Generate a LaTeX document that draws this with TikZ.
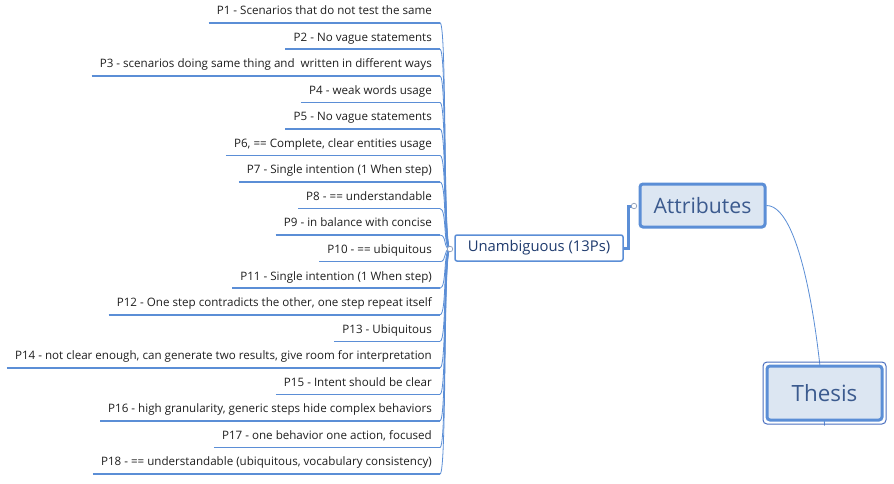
\documentclass[tikz,border=0pt]{standalone}
\usepackage{fontspec}
\setmainfont{Open Sans}
\usetikzlibrary{backgrounds}
\definecolor{lineblue}{HTML}{5B8ED6}
\definecolor{boxfill}{HTML}{DCE6F2}
\definecolor{titleblue}{HTML}{3B5A8E}
\definecolor{navy}{HTML}{1F3B6E}
\definecolor{dotgray}{HTML}{8A9BB8}
\definecolor{outerblue}{HTML}{4A6FC0}
\begin{document}
\begin{tikzpicture}[x=1pt,y=-1pt,
  leaf/.style={anchor=south east, inner xsep=8pt, inner ysep=5pt,
    text height=9pt, text depth=3pt, font=\fontsize{11.6}{13}\selectfont, text=black!88},
  uline/.style={draw=lineblue, line width=1.6pt},
  conn/.style={draw=lineblue, line width=0.8pt},
  dot/.style={circle, draw=dotgray, fill=white, inner sep=0pt, minimum size=5.5pt, line width=0.7pt},
  ubox/.style={draw=lineblue, line width=1.5pt, fill=white, rounded corners=2pt,
    minimum width=168pt, minimum height=26pt, inner sep=0pt, text=navy,
    font=\fontsize{14.8}{16}\selectfont},
  abox/.style={draw=lineblue, line width=3pt, fill=boxfill, rounded corners=3pt,
    minimum width=125pt, minimum height=43pt, inner sep=0pt, text=titleblue,
    font=\fontsize{21.2}{24}\selectfont},
  tbox/.style={draw=lineblue, line width=3pt, fill=boxfill, rounded corners=3pt,
    minimum width=115pt, minimum height=54pt, inner sep=0pt, text=titleblue,
    font=\fontsize{22.4}{26}\selectfont}
]
\begin{pgfonlayer}{background}
  \fill[white] (0,0) rectangle (894,483);
\end{pgfonlayer}
\useasboundingbox (0,0) rectangle (894,483);

\node[dot] (uc) at (450,249) {};
\node[ubox] (uamb) at (539,248) {\raisebox{-1pt}{Unambiguous (13Ps)}};
\node[dot] (ac) at (634,206) {};
\node[abox] (attr) at (702.5,205.5) {Attributes};
\node[tbox] (thesis) at (824.5,393) {Thesis};
\draw[outerblue, line width=1pt, rounded corners=4pt]
  ([shift={(-2.5pt,2.5pt)}]thesis.north west) rectangle ([shift={(2.5pt,-2.5pt)}]thesis.south east);

\foreach \i/\t in {
 1/{P1 - Scenarios that do not test the same},
 2/{P2 - No vague statements},
 3/{P3 - scenarios doing same thing and \ written in different ways},
 4/{P4 - weak words usage},
 5/{P5 - No vague statements},
 6/{P6, == Complete, clear entities usage},
 7/{P7 - Single intention (1 When step)},
 8/{P8 - == understandable},
 9/{P9 - in balance with concise},
 10/{P10 - == ubiquitous},
 11/{P11 - Single intention (1 When step)},
 12/{P12 - One step contradicts the other, one step repeat itself},
 13/{P13 - Ubiquitous},
 14/{P14 - not clear enough, can generate two results, give room for interpretation},
 15/{P15 - Intent should be clear},
 16/{P16 - high granularity, generic steps hide complex behaviors},
 17/{P17 - one behavior one action, focused},
 18/{P18 - == understandable (ubiquitous, vocabulary consistency)}}{
  \node[leaf] (p\i) at (440,{22.7+26.55*(\i-1)}) {\t};
  \draw[uline] (p\i.south west) -- (p\i.south east);
  \begin{pgfonlayer}{background}
    \draw[conn] (uc.center) .. controls +(-7,0) and +(7,0) .. (p\i.south east);
  \end{pgfonlayer}
}

\begin{pgfonlayer}{background}
  \draw[lineblue, line width=3pt] (uamb.east) -- ++(5,0) |- (ac.center);
  \draw[conn] (attr.east) .. controls +(38,0) and +(-2,-60) .. ([yshift=-4pt]thesis.south);
\end{pgfonlayer}
\end{tikzpicture}
\end{document}
